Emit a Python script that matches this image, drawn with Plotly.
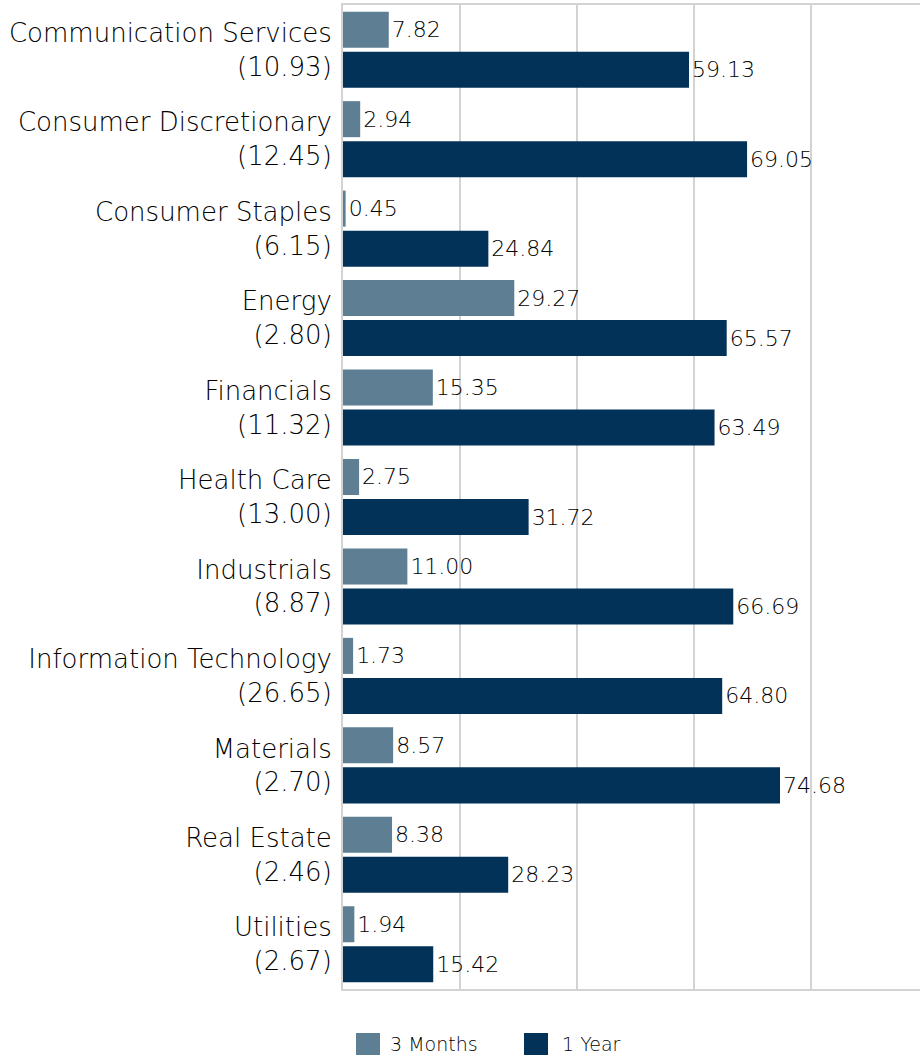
import plotly.graph_objects as go

# Sector returns (%) with index weights in parentheses
sectors = [
    "Communication Services", "Consumer Discretionary", "Consumer Staples",
    "Energy", "Financials", "Health Care", "Industrials",
    "Information Technology", "Materials", "Real Estate", "Utilities",
]
weights = ["10.93", "12.45", "6.15", "2.80", "11.32", "13.00", "8.87",
           "26.65", "2.70", "2.46", "2.67"]
three_months = [7.82, 2.94, 0.45, 29.27, 15.35, 2.75, 11.00, 1.73, 8.57, 8.38, 1.94]
one_year = [59.13, 69.05, 24.84, 65.57, 63.49, 31.72, 66.69, 64.80, 74.68, 28.23, 15.42]

series_names = ["3 Months", "1 Year"]
series_colors = ["#5E7F93", "#023258"]

FONT = "'DejaVu Sans', 'Open Sans', sans-serif"
TEXT_COLOR = "#000000"
GRID = "#d3d3d3"

tick_text = [f"{s}<br>({w})" for s, w in zip(sectors, weights)]

fig = go.Figure()
for name, vals, color in zip(series_names, [three_months, one_year], series_colors):
    fig.add_trace(go.Bar(
        name=name,
        y=sectors,
        x=vals,
        orientation="h",
        marker=dict(color=color, line=dict(width=0)),
        texttemplate="%{x:.2f}",
        textposition="outside",
        textfont=dict(family=FONT, size=22, color=TEXT_COLOR, weight=200),
        cliponaxis=False,
        showlegend=False,
    ))

# Legend swatches and labels along the bottom
legend_items = [(356, 380, 388), (524, 548, 560)]
W, H = 920, 1055
for (x0, x1, tx), name, color in zip(legend_items, series_names, series_colors):
    fig.add_shape(type="rect", xref="paper", yref="paper",
                  x0=(x0 - 343) / (W - 343), x1=(x1 - 343) / (W - 343),
                  y0=-(1033 - 989) / (989 - 5), y1=-(1056 - 989) / (989 - 5),
                  fillcolor=color, line=dict(width=0), layer="above")
    fig.add_annotation(xref="paper", yref="paper",
                       x=(tx - 343) / (W - 343), y=-(1044 - 989) / (989 - 5),
                       xanchor="left", yanchor="middle", showarrow=False,
                       text=name, font=dict(family=FONT, size=19, color=TEXT_COLOR, weight=200))

fig.update_layout(
    width=W, height=H,
    margin=dict(l=343, r=0, t=5, b=66),
    plot_bgcolor="white", paper_bgcolor="white",
    barmode="group", bargap=0.105, bargroupgap=0.1,
    font=dict(family=FONT, color=TEXT_COLOR),
)
fig.update_xaxes(
    range=[0, 98.6], dtick=20, showticklabels=False,
    showgrid=True, gridcolor=GRID, gridwidth=2,
    showline=True, linecolor=GRID, linewidth=2, mirror=True,
    zeroline=False, fixedrange=True,
)
fig.update_yaxes(
    autorange="reversed",
    tickmode="array", tickvals=sectors, ticktext=tick_text,
    tickfont=dict(family=FONT, size=26, color=TEXT_COLOR, weight=200),
    ticks="", ticklabelstandoff=4,
    showline=True, linecolor=GRID, linewidth=2,
    showgrid=False, fixedrange=True,
)

fig.write_html("out.html")
